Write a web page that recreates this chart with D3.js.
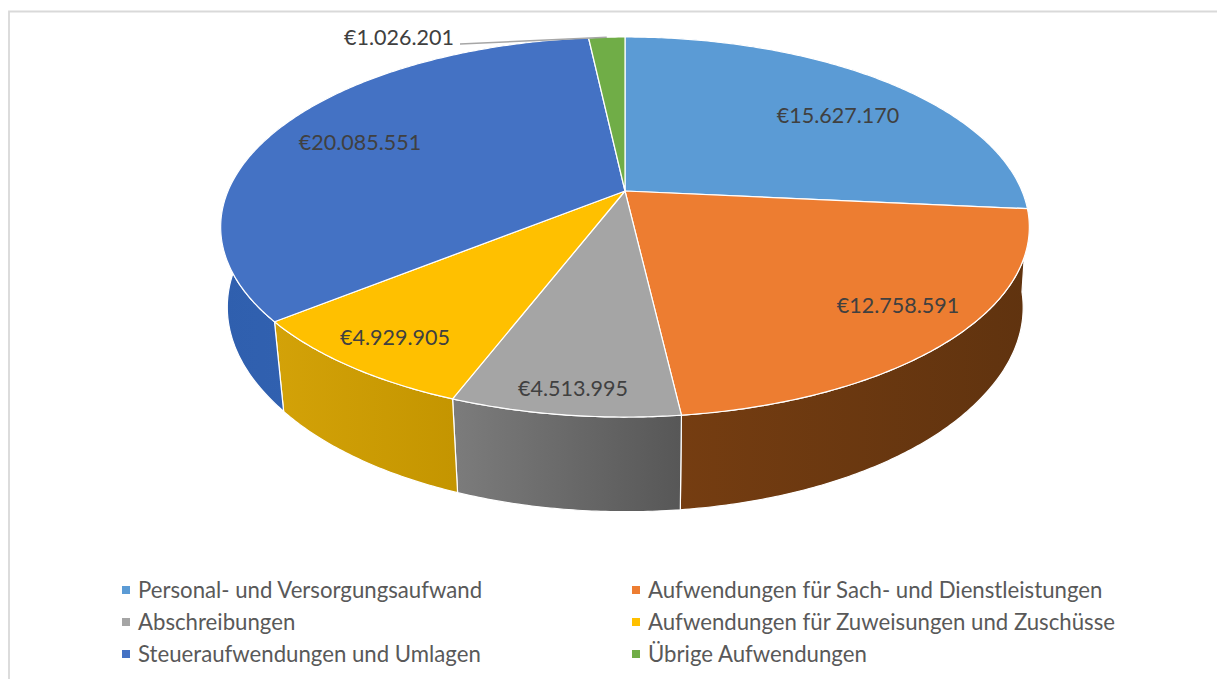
<!DOCTYPE html>
<html>
<head>
<meta charset="utf-8">
<script src="https://cdn.jsdelivr.net/npm/d3@7/dist/d3.min.js"></script>
<style>
  html, body { margin: 0; padding: 0; background: #fff; overflow: hidden; }
  text { font-family: Lato, "Open Sans", sans-serif; }
</style>
</head>
<body>
<script>
var categories = ["Personal- und Versorgungsaufwand", "Aufwendungen für Sach- und Dienstleistungen", "Abschreibungen",
                  "Aufwendungen für Zuweisungen und Zuschüsse", "Steueraufwendungen und Umlagen", "Übrige Aufwendungen"];
var values = [15627170, 12758591, 4513995, 4929905, 20085551, 1026201];
var valueLabels = ["€15.627.170", "€12.758.591", "€4.513.995", "€4.929.905", "€20.085.551", "€1.026.201"];
var topColors = ["#5b9bd5", "#ed7d31", "#a5a5a5", "#ffc000", "#4472c4", "#70ad47"];
var sideLeft = ["#34608a", "#753d11", "#7c7c7c", "#d3a208", "#2f5fae", "#4f7a32"];
var sideRight = ["#2c5278", "#60330f", "#575757", "#c49500", "#3868b8", "#426828"];

var screen = {width: 1217, height: 679};

// perspective of the disc, fitted to the picture
var view = {cx: 625, cy: 191, rx: 397, ry: 183.2, tilt: 0.1895, depth: 0.02265, vanishX: 640, vanishY: 3900};

var svg = d3.select("body").append("svg")
            .attr("width", screen.width)
            .attr("height", screen.height);

// frame is cut off on the right and at the bottom
svg.append("path")
   .attr("d", d3.line()([[9, screen.height], [9, 11.5], [screen.width, 11.5]]))
   .attr("fill", "none")
   .attr("stroke", "#d9d9d9")
   .attr("stroke-width", 1.8);

var defs = svg.append("defs");

// angle 0 is straight up, clockwise, same as d3.pie
var project = function(angle, r, lowered)
{
  var x = r * Math.sin(angle);
  var y = -r * Math.cos(angle);
  var w = 1 - view.tilt * y;
  var sx = view.cx + view.rx * x / w;
  var sy = view.cy + view.ry * y / w;
  if(lowered)
  {
    // the wall leans in less at the far left and right than at the front
    var depthX = view.depth * (0.55 + 0.45 * Math.min(1, Math.abs(y) / 0.6));
    sx = (sx * w + view.vanishX * depthX) / (w + depthX);
    sy = (sy * w + view.vanishY * view.depth) / (w + view.depth);
  }
  return [sx, sy];
}

var pie = d3.pie().sort(null).value(function(d) { return d; });
var slices = pie(values);

var rimAngles = function(d)
{
  var n = Math.ceil((d.endAngle - d.startAngle) / 0.01);
  return d3.range(n + 1).map(function(i) { return d.startAngle + (d.endAngle - d.startAngle) * i / n; });
}

var line = d3.line();

slices.forEach(function(d, i)
{
  var grad = defs.append("linearGradient")
                 .attr("id", "side" + i)
                 .attr("x1", "0").attr("x2", "1").attr("y1", "0").attr("y2", "0");
  grad.append("stop").attr("offset", "0%").attr("stop-color", sideLeft[i]);
  grad.append("stop").attr("offset", "100%").attr("stop-color", sideRight[i]);
});

// sides first, the top faces paint over whatever is behind
svg.append("g").selectAll("path")
   .data(slices)
   .enter()
   .append("path")
   .attr("d", function(d)
   {
     var angles = rimAngles(d);
     var top = angles.map(function(a) { return project(a, 1, false); });
     var bottom = angles.slice().reverse().map(function(a) { return project(a, 1, true); });
     return line(top.concat(bottom)) + "Z";
   })
   .attr("fill", function(d, i) { return "url(#side" + i + ")"; })
   .attr("stroke", "#fff")
   .attr("stroke-width", 1.2)
   .attr("stroke-linejoin", "round");

svg.append("g").selectAll("path")
   .data(slices)
   .enter()
   .append("path")
   .attr("d", function(d)
   {
     var pts = rimAngles(d).map(function(a) { return project(a, 1, false); });
     pts.unshift(project(0, 0, false));
     return line(pts) + "Z";
   })
   .attr("fill", function(d, i) { return topColors[i]; })
   .attr("stroke", "#fff")
   .attr("stroke-width", 1.2)
   .attr("stroke-linejoin", "round");

// leader of the small slice
var small = slices[5];
var smallEnd = project((small.startAngle + small.endAngle) / 2, 1, false);
svg.append("path")
   .attr("d", line([[460, 44], smallEnd]))
   .attr("fill", "none")
   .attr("stroke", "#a6a6a6")
   .attr("stroke-width", 1.5);

// where Excel put the data labels
var labelX = [838, 898, 573, 395, 360, 399];
var labelY = [115, 305, 388, 337, 142, 37];

svg.append("g").selectAll("text")
   .data(valueLabels)
   .enter()
   .append("text")
   .attr("x", function(d, i) { return labelX[i]; })
   .attr("y", function(d, i) { return labelY[i]; })
   .attr("dy", "0.35em")
   .attr("text-anchor", "middle")
   .attr("font-size", 21.5)
   .attr("fill", "#404040")
   .text(function(d) { return d; });

// legend, two columns of three
var legendX = d3.scalePoint().domain([0, 1]).range([138, 648]);
var legendY = d3.scalePoint().domain([0, 1, 2]).range([590, 654]);

var legend = svg.append("g").selectAll("g")
                .data(categories)
                .enter()
                .append("g")
                .attr("transform", function(d, i)
                {
                  return "translate(" + legendX(i % 2) + "," + legendY(Math.floor(i / 2)) + ")";
                });

legend.append("rect")
      .attr("x", -16).attr("y", -4)
      .attr("width", 8).attr("height", 8)
      .attr("fill", function(d, i) { return topColors[i]; });

legend.append("text")
      .attr("dy", "0.35em")
      .attr("font-size", 22.2)
      .attr("fill", "#595959")
      .text(function(d) { return d; });
</script>
</body>
</html>
